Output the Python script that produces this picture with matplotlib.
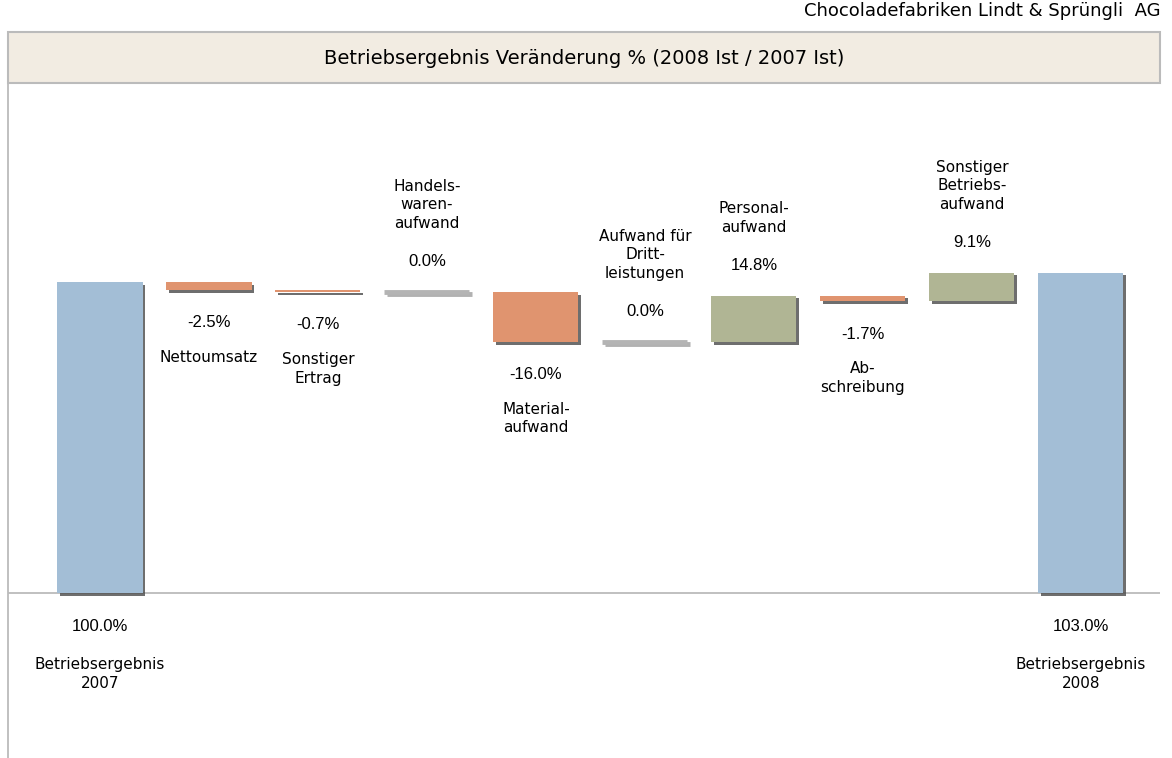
import numpy as np
import matplotlib.pyplot as plt
import matplotlib.patheffects as pe
from matplotlib.patches import Rectangle

# Daten
labels = ['Betriebsergebnis\n2007', 'Nettoumsatz', 'Sonstiger\nErtrag',
          'Handels-\nwaren-\naufwand', 'Material-\naufwand',
          'Aufwand für\nDritt-\nleistungen', 'Personal-\naufwand',
          'Ab-\nschreibung', 'Sonstiger\nBetriebs-\naufwand',
          'Betriebsergebnis\n2008']
start_value = 100.0
changes = [-2.5, -0.7, 0.0, -16.0, 0.0, 14.8, -1.7, 9.1]
end_value = 103.0

c_total = '#A3BED6'
c_neg = '#E0946F'
c_pos = '#B0B594'
c_zero = '#B4B4B4'
grey = '#BBBBBB'

W, H = 1172, 758
fig = plt.figure(figsize=(W / 100, H / 100), dpi=100)
ax = fig.add_axes([8 / W, 0, 1152 / W, 675 / H])

bar_shadow = [pe.SimplePatchShadow(offset=(2, -2), shadow_rgbFace='#4a4a4a', alpha=0.8), pe.Normal()]
line_shadow = [pe.SimpleLineShadow(offset=(1.5, -1.5), shadow_color='#909090', alpha=0.7), pe.Normal()]
bw = 0.78

values = [start_value] + changes + [end_value]
cum = start_value
for i, v in enumerate(values):
    total = i == 0 or i == len(values) - 1
    if total:
        bottom, height, col = 0, v, c_total
        low, high = 0, v
        below = True
    else:
        bottom = cum if v >= 0 else cum + v
        height = abs(v)
        col = c_pos if v > 0 else c_neg
        low, high = bottom, bottom + height
        below = v < 0
        cum += v
    if height == 0:
        ax.hlines(low, i - bw / 2, i + bw / 2, color=c_zero, lw=3.5,
                  path_effects=line_shadow, zorder=3)
    else:
        ax.bar(i, height, bottom=bottom, width=bw, color=col,
               path_effects=bar_shadow, zorder=3)
    txt = f'{v:.1f}%'
    if below:
        ax.annotate(txt, (i, low), xytext=(0, -33), textcoords='offset pixels',
                    ha='center', va='center', fontsize=12, family='Liberation Sans')
        ax.annotate(labels[i], (i, low), xytext=(0, -64 if total else -60),
                    textcoords='offset pixels',
                    ha='center', va='top', fontsize=11, linespacing=1.3)
    else:
        ax.annotate(txt, (i, high), xytext=(0, 30), textcoords='offset pixels',
                    ha='center', va='center', fontsize=12, family='Liberation Sans')
        ax.annotate(labels[i], (i, high), xytext=(0, 61), textcoords='offset pixels',
                    ha='center', va='bottom', fontsize=11, linespacing=1.3)

ax.axhline(0, color=grey, lw=1.3, zorder=1)
ax.set_xlim(-0.844, 9.725)
ax.set_ylim(-53.05, 164.0)
for s in ['top', 'right', 'bottom']:
    ax.spines[s].set_visible(False)
ax.spines['left'].set_color(grey)
ax.spines['left'].set_linewidth(1.3)
ax.set_xticks([])
ax.set_yticks([])

# Titelbox
fig.add_artist(Rectangle((8 / W, (H - 83) / H), 1152 / W, 51 / H,
                         transform=fig.transFigure, facecolor='#F2ECE2',
                         edgecolor=grey, lw=1.5))
fig.text(584 / W, 1 - 59 / H, 'Betriebsergebnis Veränderung % (2008 Ist / 2007 Ist)',
         ha='center', va='center', fontsize=14)
fig.text(1160 / W, 1 - 11 / H, 'Chocoladefabriken Lindt & Sprüngli  AG',
         ha='right', va='center', fontsize=13)

fig.savefig('out.png', dpi=100)
